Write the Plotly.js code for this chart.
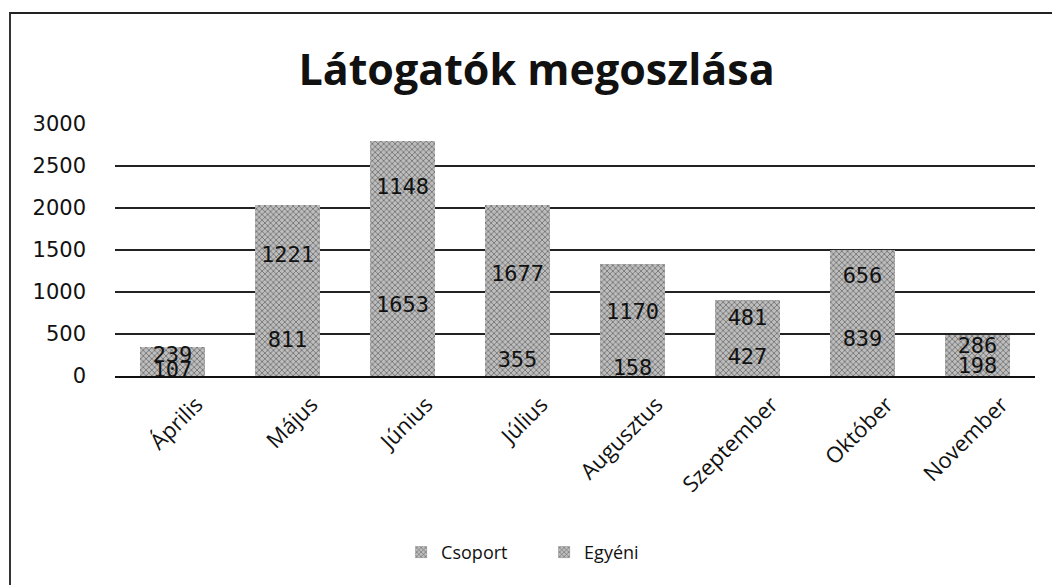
<!DOCTYPE html>
<html>
<head>
<meta charset="utf-8">
<script src="https://cdn.plot.ly/plotly-3.0.1.min.js"></script>
<style>
  html, body { margin: 0; padding: 0; background: #fff; }
  #frame { position: absolute; left: 9px; top: 12px; width: 1100px; height: 620px;
           border-top: 2px solid #222; border-left: 2px solid #333; pointer-events: none; z-index: 5; }
  #chart { position: absolute; left: 0; top: 0; width: 1052px; height: 585px; }
</style>
</head>
<body>
<div id="chart"></div>
<div id="frame"></div>
<script>
const months = ["Április", "Május", "Június", "Július", "Augusztus", "Szeptember", "Október", "November"];
const csoport = [107, 811, 1653, 355, 158, 427, 839, 198];
const egyeni = [239, 1221, 1148, 1677, 1170, 481, 656, 286];
const yTicks = [0, 500, 1000, 1500, 2000, 2500, 3000];

// Data labels are centred on each stacked segment
const csoportLabelY = csoport.map(v => v / 2);
const egyeniLabelY = egyeni.map((v, i) => csoport[i] + v / 2);

const pattern = { shape: "x", fgcolor: "#6a6a6a", bgcolor: "#bdbdbd", size: 4, solidity: 0.35 };

const traces = [
  { type: "bar", name: "Csoport", x: months, y: csoport,
    marker: { color: "#acacac", pattern: pattern, line: { width: 0 } },
    hoverinfo: "none" },
  { type: "bar", name: "Egyéni", x: months, y: egyeni,
    marker: { color: "#acacac", pattern: pattern, line: { width: 0 } },
    hoverinfo: "none" },
  { type: "scatter", mode: "text", x: months, y: csoportLabelY, text: csoport.map(String),
    textfont: { family: "DejaVu Sans Mono", size: 22, color: "#111" }, showlegend: false, hoverinfo: "none" },
  { type: "scatter", mode: "text", x: months, y: egyeniLabelY, text: egyeni.map(String),
    textfont: { family: "DejaVu Sans Mono", size: 22, color: "#111" }, showlegend: false, hoverinfo: "none" }
];

const layout = {
  width: 1052, height: 585,
  paper_bgcolor: "#fff", plot_bgcolor: "#fff",
  margin: { l: 115, r: 17, t: 124, b: 209 },
  barmode: "stack", bargap: 0.43,
  title: { text: "<b>Látogatók megoszlása</b>", x: 0.51, xanchor: "center", y: 0.88, yanchor: "middle",
           font: { family: "Open Sans", size: 43, color: "#111" } },
  xaxis: { type: "category", showgrid: false, showline: true, linecolor: "#111", linewidth: 2,
           tickangle: -45, ticks: "", ticklabelstandoff: 5, ticklabelshift: 24,
           tickfont: { family: "Open Sans", size: 22, color: "#111" } },
  yaxis: { range: [0, 3000], tickvals: yTicks, ticktext: yTicks.map(String),
           showgrid: true, gridcolor: "#222", gridwidth: 1.5, zeroline: false, showline: false,
           ticks: "", ticklabelstandoff: 28,
           tickfont: { family: "DejaVu Sans", size: 21, color: "#111" } },
  legend: { orientation: "h", x: 0.311, xanchor: "left", y: -0.70, yanchor: "middle",
            font: { family: "Open Sans", size: 18, color: "#111" }, traceorder: "normal",
            itemwidth: 30, entrywidth: 98, entrywidthmode: "pixels" },
  showlegend: true
};

Plotly.newPlot("chart", traces, layout, { displayModeBar: false, staticPlot: true });
</script>
</body>
</html>
